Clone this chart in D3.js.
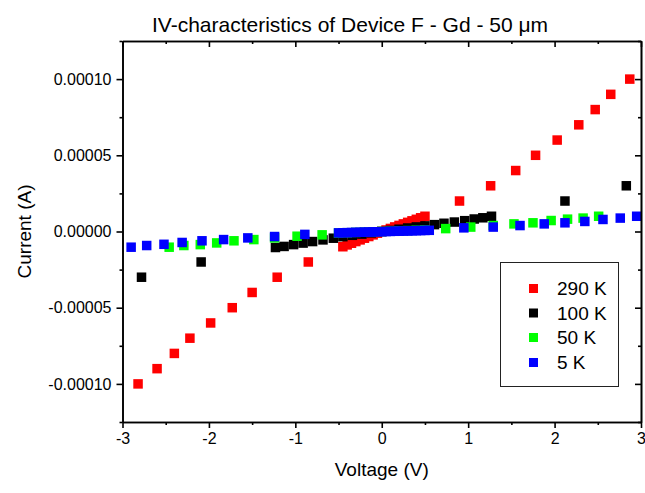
<!DOCTYPE html>
<html><head><meta charset="utf-8">
<script src="https://cdn.jsdelivr.net/npm/d3@7"></script>
<style>body{margin:0;background:#fff}svg{display:block}text{font-family:"Liberation Sans",Arial,sans-serif;fill:#000}</style>
</head><body>
<script>
// ---- data ----
const seriesNames = ["290 K", "100 K", "50 K", "5 K"];
const seriesColors = ["#ff0000", "#000000", "#00ff00", "#0000ff"];

const v290 = [-2.82,-2.60,-2.40,-2.22,-1.98,-1.73,-1.50,-1.21,-0.85,
  -0.45,-0.40,-0.35,-0.30,-0.25,-0.20,-0.15,-0.10,-0.05,0,0.05,0.10,0.15,0.20,0.25,0.30,0.35,0.40,0.45,0.50,
  0.90,1.26,1.55,1.78,2.03,2.28,2.47,2.65,2.87];
const i290 = [-1.0e-4,-9.0e-5,-8.0e-5,-7.0e-5,-6.0e-5,-5.0e-5,-4.0e-5,-3.0e-5,-2.0e-5,
  -1.0e-5,-8.8e-6,-7.7e-6,-6.6e-6,-5.5e-6,-4.4e-6,-3.3e-6,-2.2e-6,-1.1e-6,0,1.0e-6,2.0e-6,3.0e-6,4.0e-6,5.0e-6,6.0e-6,7.0e-6,8.0e-6,9.0e-6,1.0e-5,
  2.0e-5,3.0e-5,4.0e-5,5.0e-5,6.0e-5,7.0e-5,8.0e-5,9.0e-5,1.0e-4];

const v100 = [-2.78,-2.09,-1.23,-1.13,-1.02,-0.91,-0.80,-0.68,-0.56,-0.45,-0.34,-0.23,-0.12,0,
  0.10,0.20,0.30,0.40,0.50,0.61,0.72,0.84,0.96,1.07,1.17,1.27,2.12,2.83];
const i100 = [-3.0e-5,-2.0e-5,-1.05e-5,-9.8e-6,-8.6e-6,-7.6e-6,-6.6e-6,-5.5e-6,-4.4e-6,-3.4e-6,-2.5e-6,-1.7e-6,-0.9e-6,0,
  0.7e-6,1.5e-6,2.3e-6,3.0e-6,3.7e-6,4.5e-6,5.4e-6,6.2e-6,7.1e-6,8.2e-6,9.0e-6,1.0e-5,2.0e-5,3.0e-5];

const v50 = [-2.46,-2.29,-2.10,-1.91,-1.71,-1.48,-1.24,-0.98,-0.69,
  -0.50,-0.40,-0.30,-0.20,-0.10,0,0.10,0.20,0.30,0.40,0.50,
  0.74,1.03,1.29,1.53,1.75,1.96,2.15,2.33,2.51];
const i50 = [-1.03e-5,-9.2e-6,-8.6e-6,-7.5e-6,-6.1e-6,-5.3e-6,-4.2e-6,-3.1e-6,-2.2e-6,
  -1.0e-6,-0.8e-6,-0.6e-6,-0.4e-6,-0.2e-6,0,0.2e-6,0.4e-6,0.6e-6,0.8e-6,1.0e-6,
  1.9e-6,2.9e-6,3.9e-6,5.0e-6,5.7e-6,7.2e-6,8.1e-6,8.8e-6,1.0e-5];

const v5 = [-2.90,-2.72,-2.52,-2.31,-2.08,-1.83,-1.55,-1.24,-0.89,
  -0.50,-0.45,-0.40,-0.35,-0.30,-0.25,-0.20,-0.15,-0.10,-0.05,0,0.05,0.10,0.15,0.20,0.25,0.30,0.35,0.40,0.45,0.50,0.55,
  0.95,1.29,1.60,1.88,2.12,2.35,2.56,2.76,2.95];
const i5 = [-1.03e-5,-9.2e-6,-8.4e-6,-7.2e-6,-6.1e-6,-5.3e-6,-4.2e-6,-3.3e-6,-1.9e-6,
  -0.9e-6,-0.82e-6,-0.74e-6,-0.66e-6,-0.58e-6,-0.5e-6,-0.42e-6,-0.34e-6,-0.26e-6,-0.18e-6,-0.1e-6,-0.02e-6,0.06e-6,0.14e-6,0.22e-6,0.3e-6,0.38e-6,0.46e-6,0.54e-6,0.62e-6,0.7e-6,0.78e-6,
  2.4e-6,2.9e-6,3.9e-6,5.0e-6,5.7e-6,6.6e-6,7.9e-6,8.8e-6,1.0e-5];

const xTicks = [-3,-2,-1,0,1,2,3];
const xTickLabels = ["-3","-2","-1","0","1","2","3"];
const xMinor = [-2.5,-1.5,-0.5,0.5,1.5,2.5];
const yTicks = [-1.0e-4,-5.0e-5,0,5.0e-5,1.0e-4];
const yTickLabels = ["-0.00010","-0.00005","0.00000","0.00005","0.00010"];
const yMinor = [-1.25e-4,-7.5e-5,-2.5e-5,2.5e-5,7.5e-5,1.25e-4];

const titleText = "IV-characteristics of Device F - Gd - 50 \u03bcm";
const xTitle = "Voltage (V)";
const yTitle = "Current (A)";

// ---- drawing ----
const W = 645, H = 493;
const L = 122.5, R = 641, T = 41, B = 422;
const svg = d3.select("body").append("svg").attr("width", W).attr("height", H);
const x = d3.scaleLinear().domain([-3, 3]).range([L, R]);
const y = d3.scaleLinear().domain([-1.25e-4, 1.25e-4]).range([B, T]);

const series = [
  {v: v290, i: i290}, {v: v100, i: i100}, {v: v50, i: i50}, {v: v5, i: i5}
];
const ms = 9.5;
series.forEach((s, k) => {
  svg.append("g").selectAll("rect").data(s.v.map((vv, j) => [vv, s.i[j]])).join("rect")
    .attr("x", d => x(d[0]) - ms/2).attr("y", d => y(d[1]) - ms/2)
    .attr("width", ms).attr("height", ms).attr("fill", seriesColors[k]);
});

function styleAxis(g){
  g.selectAll("path.domain").attr("stroke", "#000").attr("stroke-width", 1.6);
  g.selectAll(".tick line").attr("stroke", "#000").attr("stroke-width", 1.6);
  g.selectAll("text").style("font-family", '"Liberation Sans",Arial,sans-serif').attr("fill", "#000");
}
// bottom
const gb = svg.append("g").attr("transform", `translate(0,${B})`)
  .call(d3.axisBottom(x).tickValues(xTicks).tickFormat((d,j) => xTickLabels[j]).tickSizeInner(6).tickSizeOuter(0).tickPadding(5));
gb.selectAll("text").style("font-size", "16px");
styleAxis(gb);
const gbm = svg.append("g").attr("transform", `translate(0,${B})`)
  .call(d3.axisBottom(x).tickValues(xMinor).tickFormat("").tickSizeInner(3).tickSizeOuter(0));
styleAxis(gbm);
// top (inward)
const gt = svg.append("g").attr("transform", `translate(0,${T})`)
  .call(d3.axisTop(x).tickValues(xTicks).tickFormat("").tickSizeInner(-6).tickSizeOuter(0));
styleAxis(gt);
const gtm = svg.append("g").attr("transform", `translate(0,${T})`)
  .call(d3.axisTop(x).tickValues(xMinor).tickFormat("").tickSizeInner(-3).tickSizeOuter(0));
styleAxis(gtm);
// left
const gl = svg.append("g").attr("transform", `translate(${L},0)`)
  .call(d3.axisLeft(y).tickValues(yTicks).tickFormat((d,j) => yTickLabels[j]).tickSizeInner(6).tickSizeOuter(0).tickPadding(5));
gl.selectAll("text").style("font-size", "16px");
styleAxis(gl);
const glm = svg.append("g").attr("transform", `translate(${L},0)`)
  .call(d3.axisLeft(y).tickValues(yMinor).tickFormat("").tickSizeInner(3).tickSizeOuter(0));
styleAxis(glm);
// right (inward)
const gr = svg.append("g").attr("transform", `translate(${R},0)`)
  .call(d3.axisRight(y).tickValues(yTicks).tickFormat("").tickSizeInner(-6).tickSizeOuter(0));
styleAxis(gr);
const grm = svg.append("g").attr("transform", `translate(${R},0)`)
  .call(d3.axisRight(y).tickValues(yMinor).tickFormat("").tickSizeInner(-3).tickSizeOuter(0));
styleAxis(grm);

// titles
svg.append("text").attr("x", 350).attr("y", 32).attr("text-anchor", "middle")
  .style("font-size", "21px").text(titleText);
svg.append("text").attr("x", (L + R) / 2).attr("y", 476).attr("text-anchor", "middle")
  .style("font-size", "19px").text(xTitle);
svg.append("text").attr("transform", `translate(31,${(T + B) / 2}) rotate(-90)`).attr("text-anchor", "middle")
  .style("font-size", "19px").text(yTitle);

// legend
const lg = svg.append("g");
lg.append("rect").attr("x", 500.5).attr("y", 262.5).attr("width", 118).attr("height", 124)
  .attr("fill", "#fff").attr("stroke", "#222").attr("stroke-width", 1);
const rowY = [288.5, 313, 337.5, 362.5];
seriesNames.forEach((n, k) => {
  lg.append("rect").attr("x", 533.5 - 4.5).attr("y", rowY[k] - 4.5).attr("width", 9).attr("height", 9)
    .attr("fill", seriesColors[k]);
  lg.append("text").attr("x", 557).attr("y", rowY[k]).attr("dy", "0.36em")
    .style("font-size", "19px").text(n);
});
</script>
</body></html>
